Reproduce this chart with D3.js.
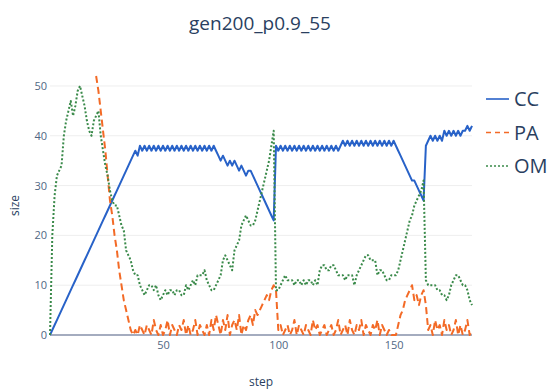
<!DOCTYPE html>
<html>
<head>
<meta charset="utf-8">
<script src="https://d3js.org/d3.v7.min.js"></script>
<style>
  body { margin: 0; background: #fff; }
</style>
</head>
<body>
<div id="my_dataviz"></div>
<script>
// Data
const chartTitle = 'gen200_p0.9_55';
const seriesNames = ['CC', 'PA', 'OM'];
const xTicks = [50, 100, 150];
const yTicks = [0, 10, 20, 30, 40, 50];
const ccStart = 1;
const paStart = 21;
const omStart = 1;

const ccValues = [
  0, 1, 2, 3, 4, 5, 6, 7, 8, 9,
  10, 11, 12, 13, 14, 15, 16, 17, 18, 19,
  20, 21, 22, 23, 24, 25, 26, 27, 28, 29,
  30, 31, 32, 33, 34, 35, 36, 37, 36, 38,
  37, 38, 37, 38, 37, 38, 37, 38, 37, 38,
  37, 38, 37, 38, 37, 38, 37, 38, 37, 38,
  37, 38, 37, 38, 37, 38, 37, 38, 37, 38,
  37, 38, 37, 36, 35, 36, 35, 34, 35, 34,
  35, 34, 33, 34, 33, 32, 33, 33, 32, 31,
  30, 29, 28, 27, 26, 25, 24, 23, 38, 37,
  38, 37, 38, 37, 38, 37, 38, 37, 38, 37,
  38, 37, 38, 37, 38, 37, 38, 37, 38, 37,
  38, 37, 38, 37, 38, 37, 38, 39, 38, 39,
  38, 39, 38, 39, 38, 39, 38, 39, 38, 39,
  38, 39, 38, 39, 38, 39, 38, 39, 38, 39,
  38, 37, 36, 35, 34, 33, 32, 31, 31, 30,
  29, 28, 27, 38, 39, 40, 39, 40, 39, 40,
  39, 41, 40, 41, 40, 41, 40, 41, 40, 41,
  41, 42, 41, 42
];

const paValues = [
  52, 49, 45, 41, 37, 32, 27, 24, 20, 17,
  13, 10, 7, 5, 3, 1, 0, 1, 0, 2,
  1, 0, 2, 1, 0, 3, 1, 0, 2, 0,
  1, 3, 0, 2, 1, 0, 2, 1, 3, 0,
  2, 0, 1, 3, 0, 2, 1, 0, 2, 0,
  3, 1, 4, 2, 0, 3, 1, 4, 0, 2,
  3, 1, 4, 0, 2, 1, 3, 4, 2, 5,
  4, 5, 6, 7, 8, 7, 9, 10, 9, 1,
  2, 0, 1, 2, 0, 1, 3, 0, 2, 1,
  0, 2, 1, 0, 3, 1, 2, 0, 1, 2,
  0, 1, 2, 0, 1, 3, 0, 1, 2, 0,
  3, 1, 0, 2, 1, 3, 0, 2, 1, 0,
  2, 1, 3, 0, 2, 1, 0, 1, 0, 0,
  0, 2, 4, 5, 7, 8, 9, 10, 7, 8,
  6, 8, 9, 6, 1, 2, 0, 3, 1, 2,
  0, 3, 1, 2, 0, 1, 3, 0, 2, 0,
  1, 3, 0, 1
];

const omValues = [
  0, 20, 28, 32, 33, 34, 40, 43, 45, 47,
  44, 46, 49, 50, 48, 46, 43, 41, 40, 43,
  44, 45, 40, 37, 34, 32, 29, 27, 26, 26,
  24, 22, 21, 17, 16, 15, 13, 12, 12, 10,
  9, 8, 9, 10, 10, 9, 10, 8, 7, 8,
  9, 8, 9, 9, 8, 9, 9, 8, 8, 10,
  9, 10, 11, 10, 12, 12, 12, 13, 11, 10,
  9, 9, 10, 11, 12, 15, 16, 15, 14, 13,
  17, 18, 19, 22, 23, 24, 23, 22, 22, 23,
  25, 27, 29, 31, 33, 35, 38, 41, 9, 9,
  10, 11, 12, 11, 11, 11, 10, 11, 11, 10,
  11, 10, 11, 11, 10, 11, 10, 13, 14, 14,
  13, 13, 14, 14, 13, 12, 12, 12, 11, 12,
  12, 12, 10, 12, 13, 14, 15, 16, 16, 15,
  15, 15, 12, 13, 13, 12, 11, 11, 12, 12,
  12, 13, 15, 17, 19, 21, 23, 24, 26, 27,
  28, 29, 31, 11, 10, 10, 10, 10, 9, 9,
  8, 8, 7, 8, 10, 11, 12, 12, 11, 10,
  10, 9, 7, 6
];

// Constant
const width = 547;
const height = 392;
const margin = {top: 76, right: 75, bottom: 57, left: 50};
const innerWidth = width - margin.left - margin.right;
const innerHeight = height - margin.top - margin.bottom;
const fontFamily = '"Open Sans", "DejaVu Sans", Arial, sans-serif';
const textColor = '#2a3f5f';
const tickColor = '#506784';
const colors = {CC: '#2862c8', PA: '#f36a26', OM: '#3a8a4a'};
const dashes = {CC: null, PA: '7,4', OM: '2,2'};

var svg;
var g;

document.addEventListener('DOMContentLoaded', function () {

    svg = d3.select('#my_dataviz')
            .append('svg')
                .attr('width', width)
                .attr('height', height)
                .style('background', '#fff');

    g = svg.append('g')
            .attr('transform', `translate(${margin.left},${margin.top})`);

    const series = [
        {name: 'CC', values: ccValues.map((v, i) => ({x: ccStart + i, y: v}))},
        {name: 'PA', values: paValues.map((v, i) => ({x: paStart + i, y: v}))},
        {name: 'OM', values: omValues.map((v, i) => ({x: omStart + i, y: v}))}
    ];

    const allX = series.flatMap(s => s.values.map(d => d.x));
    const allY = series.flatMap(s => s.values.map(d => d.y));

    const xScale = d3.scaleLinear()
                    .domain(d3.extent(allX))
                    .range([0, innerWidth]);
    const yScale = d3.scaleLinear()
                    .domain([0, d3.max(allY)])
                    .range([innerHeight, 0]);

    // Grid lines
    g.append('g')
        .selectAll('line')
        .data(yTicks.filter(t => t > 0))
        .enter()
        .append('line')
            .attr('x1', 0)
            .attr('x2', innerWidth)
            .attr('y1', d => yScale(d))
            .attr('y2', d => yScale(d))
            .attr('stroke', '#eeeeee')
            .attr('stroke-width', 1);

    // Zero line
    g.append('line')
        .attr('x1', 0)
        .attr('x2', innerWidth)
        .attr('y1', yScale(0))
        .attr('y2', yScale(0))
        .attr('stroke', '#4a5a80')
        .attr('stroke-width', 1.2);

    // Axes
    const xAxis = g.append('g')
        .attr('transform', `translate(0, ${innerHeight})`)
        .call(d3.axisBottom(xScale).tickValues(xTicks).tickSize(0).tickPadding(6));
    const yAxis = g.append('g')
        .call(d3.axisLeft(yScale).tickValues(yTicks).tickSize(0).tickPadding(3));

    [xAxis, yAxis].forEach(ax => {
        ax.attr('font-family', fontFamily)
          .attr('font-size', 11)
          .attr('fill', tickColor);
        ax.select('.domain').attr('stroke', 'none');
        ax.selectAll('text').attr('fill', tickColor);
    });

    // Lines
    const line = d3.line()
        .x(d => xScale(d.x))
        .y(d => yScale(d.y));

    g.selectAll('.series')
        .data(series)
        .enter()
        .append('path')
            .attr('class', 'series')
            .attr('d', d => line(d.values))
            .attr('fill', 'none')
            .attr('stroke', d => colors[d.name])
            .attr('stroke-width', 2)
            .attr('stroke-dasharray', d => dashes[d.name])
            .attr('stroke-linejoin', 'round');

    // Title
    svg.append('text')
        .attr('x', 260)
        .attr('y', 30)
        .attr('text-anchor', 'middle')
        .style('font-family', fontFamily)
        .style('font-size', '19px')
        .attr('fill', textColor)
        .text(chartTitle);

    // Axis titles
    svg.append('text')
        .attr('x', margin.left + innerWidth / 2)
        .attr('y', 386)
        .attr('text-anchor', 'middle')
        .style('font-family', fontFamily)
        .style('font-size', '12px')
        .attr('fill', textColor)
        .text('step');

    svg.append('text')
        .attr('transform', `translate(19, ${margin.top + innerHeight / 2}) rotate(-90)`)
        .attr('text-anchor', 'middle')
        .style('font-family', fontFamily)
        .style('font-size', '12px')
        .attr('fill', textColor)
        .text('size');

    // Legend
    const legend = svg.append('g')
        .attr('transform', 'translate(486, 99)');

    const items = legend.selectAll('g')
        .data(seriesNames)
        .enter()
        .append('g')
            .attr('transform', (d, i) => `translate(0, ${i * 33.5})`);

    items.append('line')
        .attr('x1', 0)
        .attr('x2', 23)
        .attr('stroke', d => colors[d])
        .attr('stroke-width', 1.6)
        .attr('stroke-dasharray', d => d === 'PA' ? '5,4' : dashes[d]);

    items.append('text')
        .attr('x', 28)
        .attr('dy', '0.35em')
        .style('font-family', fontFamily)
        .style('font-size', '20px')
        .attr('fill', textColor)
        .text(d => d);
});
</script>
</body>
</html>
